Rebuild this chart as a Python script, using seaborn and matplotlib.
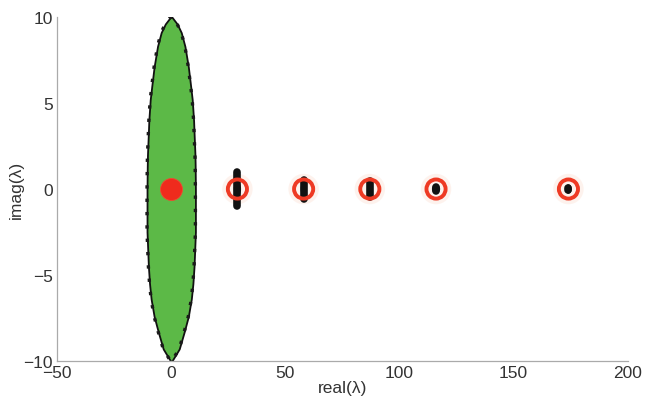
import numpy as np
import pandas as pd
import matplotlib
matplotlib.use("Agg")
import matplotlib.pyplot as plt
import seaborn as sns

# Boundary of the dense eigenvalue cloud (imag value, half-width in real part)
cloud_imag = [10.0, 9.6, 9.1, 8.3, 7.1, 6.0, 5.2, 4.0, 3.3, 2.0, 1.3, 0.0,
              -1.3, -2.5, -3.5, -4.5, -5.5, -6.4, -7.4, -8.3, -9.3, -10.0]
cloud_half = [0.3, 2.6, 4.4, 6.0, 7.5, 8.5, 9.2, 9.8, 10.0, 10.4, 10.5, 10.6,
              10.6, 10.6, 10.3, 10.0, 9.5, 8.8, 7.5, 5.7, 3.5, 0.3]

# Isolated eigenvalue clusters
cluster_real = [29, 58, 87, 116, 174]
cluster_imag_half = [1.0, 0.55, 0.45, 0.12, 0.08]
cluster_real_half = [1.6, 1.3, 1.2, 1.8, 1.5]
ring_real = [29, 58, 87, 116, 174]
ring_imag = [0, 0, 0, 0, 0]
center_real = [0]
center_imag = [0]

xticks = [-50, 0, 50, 100, 150, 200]
yticks = [-10, -5, 0, 5, 10]

sns.set_style("white")
plt.rcParams["font.family"] = ["Liberation Sans", "DejaVu Sans"]

fig = plt.figure(figsize=(6.56, 4.02), dpi=100)
ax = fig.add_axes([0.087, 0.0995, 0.87, 0.8555])

ci = np.array(cloud_imag)
ch = np.array(cloud_half)
ax.fill_betweenx(ci, -ch, ch, facecolor="#5cb947", edgecolor="#111111",
                 linewidth=1.3, zorder=2)
ax.fill_betweenx(ci, -ch, ch, facecolor="none", edgecolor="#1a1a1a",
                 linewidth=2.4, linestyle=(0, (1, 3)), zorder=2)

# halos around the isolated rings
halo = pd.DataFrame({"re": ring_real, "im": ring_imag})
sns.scatterplot(data=halo, x="re", y="im", s=480, color="#fde6dc", alpha=0.5,
                edgecolor="none", ax=ax, zorder=3, legend=False)

# black clusters
for x, h, w in zip(cluster_real, cluster_imag_half, cluster_real_half):
    ax.plot([x, x], [-h, h], color="#111111", lw=5.5, solid_capstyle="round", zorder=4)
    ax.add_patch(matplotlib.patches.Ellipse((x, 0), 2 * w, 0.55 + 0.35 * (h > 0.3),
                                            facecolor="#111111", edgecolor="none", zorder=4))

rings = pd.DataFrame({"re": ring_real, "im": ring_imag})
sns.scatterplot(data=rings, x="re", y="im", s=190, facecolor="none",
                edgecolor="#ee3a24", linewidth=2.8, ax=ax, zorder=5, legend=False)

center = pd.DataFrame({"re": center_real, "im": center_imag})
sns.scatterplot(data=center, x="re", y="im", s=250, color="#ef2b1d",
                edgecolor="#f04a30", linewidth=0.6, ax=ax, zorder=5, legend=False)

ax.set_xlim(-50, 200)
ax.set_ylim(-10, 10)
ax.set_xticks(xticks)
ax.set_yticks(yticks)
ax.set_xticklabels([str(t) if t >= 0 else "\u2212" + str(-t) for t in xticks])
ax.set_yticklabels([str(t) if t >= 0 else "\u2212" + str(-t) for t in yticks])
ax.tick_params(direction="in", length=4, width=0.8, color="#aaaaaa",
               labelsize=12.5, labelcolor="#333333", pad=3)
for s in ["top", "right"]:
    ax.spines[s].set_visible(False)
for s in ["left", "bottom"]:
    ax.spines[s].set_color("#aaaaaa")
    ax.spines[s].set_linewidth(0.9)
ax.set_xlabel("real(\u03bb)", fontsize=12.5, color="#333333", labelpad=0)
ax.set_ylabel("imag(\u03bb)", fontsize=12.5, color="#333333")
ax.yaxis.set_label_coords(-0.058, 0.5)

fig.savefig("out.png", dpi=100, facecolor="white")
